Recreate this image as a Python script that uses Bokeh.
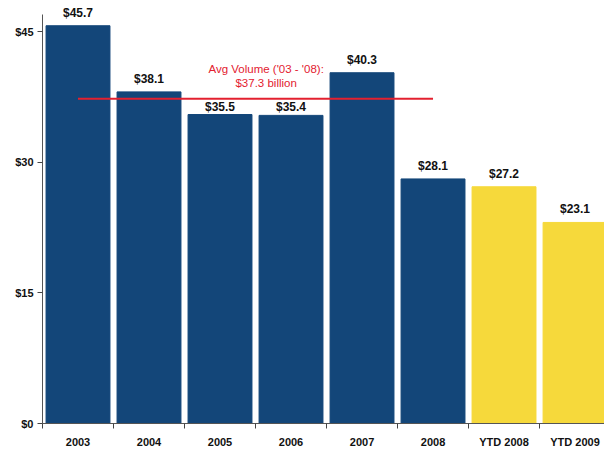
from bokeh.plotting import figure
from bokeh.models import ColumnDataSource, FixedTicker, Range1d
from bokeh.core.properties import value
from bokeh.embed import file_html
from bokeh.resources import INLINE

categories = ["2003", "2004", "2005", "2006", "2007", "2008", "YTD 2008", "YTD 2009"]
volumes = [45.7, 38.1, 35.5, 35.4, 40.3, 28.1, 27.2, 23.1]
period_type = ["Annual", "Annual", "Annual", "Annual", "Annual", "Annual", "YTD", "YTD"]
avg_volume = 37.3
avg_note = ["Avg Volume ('03 - '08):", "$37.3 billion"]
y_ticks = [0, 15, 30, 45]

BLUE = "#134679"
YELLOW = "#f6d93b"
RED = "#e3202f"
FONT = "Liberation Sans"

xs = list(range(len(categories)))
colors = [BLUE if t == "Annual" else YELLOW for t in period_type]
labels = ["$%.1f" % v for v in volumes]
# labels that sit just under the average line are tucked closer to their bar
offs = [-1 if 0 < avg_volume - v < 2.5 else -6 for v in volumes]
src = ColumnDataSource(dict(x=xs, top=volumes, color=colors, label=labels, off=offs))

p = figure(width=604, height=450, output_backend="svg", toolbar_location=None,
           x_range=Range1d(-0.5, 7.415), y_range=Range1d(0, 48.6))
p.min_border_left = 42
p.min_border_right = 0
p.min_border_top = 0
p.min_border_bottom = 27
p.outline_line_color = None
p.xgrid.visible = False
p.ygrid.visible = False

p.vbar(x="x", top="top", width=0.9, bottom=0, color="color", source=src)

p.text(x="x", y="top", text="label", source=src, text_align="center",
       text_baseline="bottom", y_offset="off", text_font=value(FONT),
       text_font_style="bold", text_font_size="12px", text_color="#111111")

# average line from first to last annual bar
annual_idx = [i for i, t in enumerate(period_type) if t == "Annual"]
p.line(x=[annual_idx[0], annual_idx[-1]], y=[avg_volume, avg_volume],
       line_color=RED, line_width=2)
p.text(x=[2.65, 2.65], y=[avg_volume + 3.45, avg_volume + 1.85], text=avg_note,
       text_align="center", text_baseline="middle", text_font=value(FONT),
       text_font_size="11.5px", text_color=RED)

xa = p.xaxis[0]
xa.ticker = FixedTicker(ticks=xs, minor_ticks=[i + 0.5 for i in range(-1, len(categories))])
xa.major_label_overrides = {i: c for i, c in enumerate(categories)}
xa.major_tick_line_color = None
xa.major_tick_out = 0
xa.major_tick_in = 0
xa.minor_tick_line_color = "#444444"
xa.minor_tick_out = 5
xa.minor_tick_in = 0
xa.axis_line_color = "#555555"
xa.major_label_text_font = FONT
xa.major_label_text_font_style = "bold"
xa.major_label_text_font_size = "11px"
xa.major_label_text_color = "#111111"
xa.major_label_standoff = 7

ya = p.yaxis[0]
ya.ticker = FixedTicker(ticks=y_ticks)
ya.bounds = (0, 47)
ya.major_label_overrides = {t: "$%d" % t for t in y_ticks}
ya.minor_tick_line_color = None
ya.major_tick_out = 5
ya.major_tick_in = 0
ya.major_tick_line_color = "#444444"
ya.axis_line_color = "#555555"
ya.major_label_text_font = FONT
ya.major_label_text_font_style = "bold"
ya.major_label_text_font_size = "11px"
ya.major_label_text_color = "#111111"
ya.major_label_standoff = 4

open("out.html", "w").write(file_html(p, INLINE))
